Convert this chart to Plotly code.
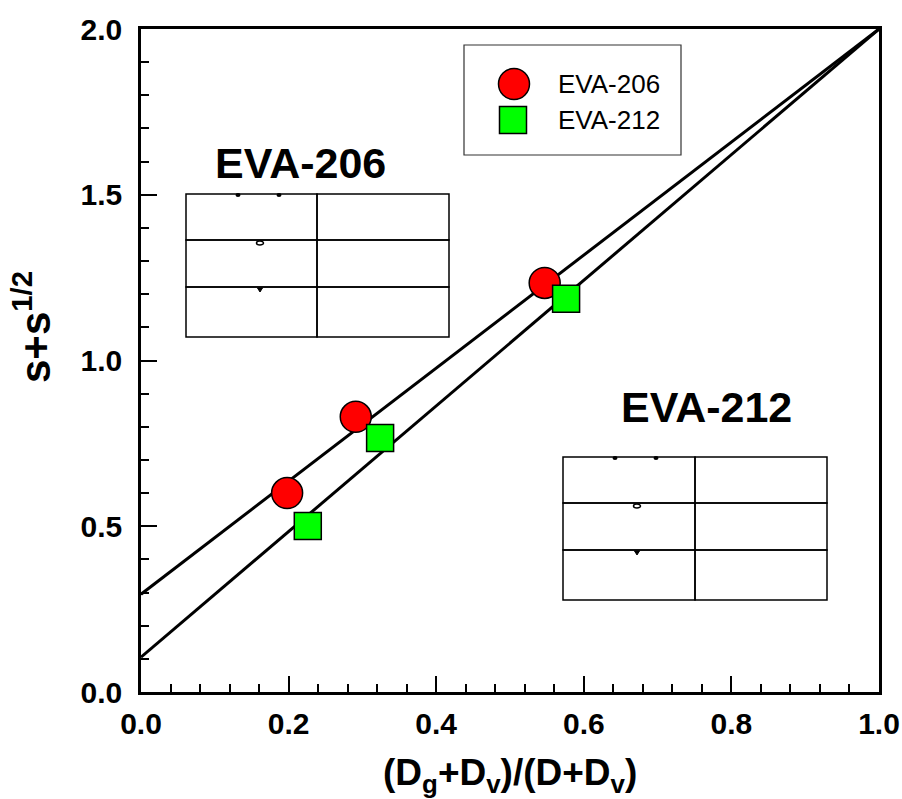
import plotly.graph_objects as go

# ---- data ----
series_names = ["EVA-206", "EVA-212"]
x206 = [0.198, 0.291, 0.547]
y206 = [0.600, 0.830, 1.234]
x212 = [0.226, 0.324, 0.576]
y212 = [0.501, 0.766, 1.186]
fit_x = [0.0, 1.0]
fit206 = [0.295, 2.0]
fit212 = [0.105, 2.0]
x_ticks = [0.0, 0.2, 0.4, 0.6, 0.8, 1.0]
y_ticks = [0.0, 0.5, 1.0, 1.5, 2.0]

FONT = "Liberation Sans, Arial, sans-serif"
W, H = 902, 799
L, R, T, B = 141, 23, 29, 107
PW, PH = W - L - R, H - T - B

def px(xp):
    return (xp - L) / PW

def py(yp):
    return (H - B - yp) / PH

fig = go.Figure()
fig.add_trace(go.Scatter(x=fit_x, y=fit206, mode="lines",
                         line=dict(color="black", width=3), showlegend=False))
fig.add_trace(go.Scatter(x=fit_x, y=fit212, mode="lines",
                         line=dict(color="black", width=3), showlegend=False))
fig.add_trace(go.Scatter(x=x206, y=y206, mode="markers", name=series_names[0],
                         marker=dict(symbol="circle", size=31, color="#ff0000",
                                     line=dict(color="black", width=1.5)),
                         showlegend=False))
fig.add_trace(go.Scatter(x=x212, y=y212, mode="markers", name=series_names[1],
                         marker=dict(symbol="square", size=27, color="#00ff00",
                                     line=dict(color="black", width=1.5)),
                         showlegend=False))

shapes = []
annotations = []

# legend box (drawn manually to keep large symbols)
shapes.append(dict(type="rect", xref="paper", yref="paper",
                   x0=px(464), x1=px(681), y0=py(155), y1=py(45),
                   line=dict(color="#333", width=1.2), fillcolor="white", layer="below"))
shapes.append(dict(type="circle", xref="paper", yref="paper",
                   x0=px(514 - 15.5), x1=px(514 + 15.5), y0=py(84 + 15.5), y1=py(84 - 15.5),
                   line=dict(color="black", width=1.5), fillcolor="#ff0000"))
shapes.append(dict(type="rect", xref="paper", yref="paper",
                   x0=px(513 - 13.5), x1=px(513 + 13.5), y0=py(120 + 13.5), y1=py(120 - 13.5),
                   line=dict(color="black", width=1.5), fillcolor="#00ff00"))
for name, yc in zip(series_names, [84, 120]):
    annotations.append(dict(xref="paper", yref="paper", x=px(556), y=py(yc),
                            xanchor="left", yanchor="middle", text=name, showarrow=False,
                            font=dict(family=FONT, size=26, color="black")))

# inset tables
def table(x0, x1, xc, ys, title_xy, title):
    for ya, yb in zip(ys[:-1], ys[1:]):
        for xa, xb in [(x0, xc), (xc, x1)]:
            shapes.append(dict(type="rect", xref="paper", yref="paper",
                               x0=px(xa), x1=px(xb), y0=py(yb), y1=py(ya),
                               line=dict(color="black", width=1.5)))
    annotations.append(dict(xref="paper", yref="paper", x=px(title_xy[0]), y=py(title_xy[1]),
                            xanchor="center", yanchor="middle", text="<b>%s</b>" % title,
                            showarrow=False, font=dict(family=FONT, size=43, color="black")))
    # small clipped glyph fragments inside the cells
    for dx in (52, 93):
        shapes.append(dict(type="circle", xref="paper", yref="paper",
                           x0=px(x0 + dx - 2.5), x1=px(x0 + dx + 2.5),
                           y0=py(ys[0] + 3), y1=py(ys[0] - 1),
                           line=dict(width=0), fillcolor="black"))
    cx = x0 + 74
    shapes.append(dict(type="circle", xref="paper", yref="paper",
                       x0=px(cx - 3.5), x1=px(cx + 3.5),
                       y0=py(ys[1] + 5), y1=py(ys[1] + 1),
                       line=dict(width=1.5, color="black"), fillcolor="white"))
    shapes.append(dict(type="path", xref="paper", yref="paper",
                       path="M %f,%f L %f,%f L %f,%f Z" % (
                           px(cx - 2.5), py(ys[2] + 1), px(cx + 2.5), py(ys[2] + 1),
                           px(cx), py(ys[2] + 5)),
                       line=dict(width=1, color="black"), fillcolor="black"))

table(186, 449, 317, [194, 240, 287, 337], (300, 163), series_names[0])
table(563, 827, 695, [457, 503, 550, 600], (706, 407), series_names[1])

# axis titles
annotations.append(dict(xref="paper", yref="paper", x=0.5, y=py(775),
                        xanchor="center", yanchor="middle", showarrow=False,
                        text="<b>(D<sub>g</sub>+D<sub>v</sub>)/(D+D<sub>v</sub>)</b>",
                        font=dict(family=FONT, size=37, color="black")))
annotations.append(dict(xref="paper", yref="paper", x=px(32), y=py(327),
                        xanchor="center", yanchor="middle", showarrow=False, textangle=-90,
                        text="<b>s+s<sup>1/2</sup></b>",
                        font=dict(family=FONT, size=42, color="black")))

axis_common = dict(showgrid=False, zeroline=False, showline=True, linecolor="black",
                   linewidth=2.5, mirror=True, ticks="inside", ticklen=16, tickwidth=2,
                   tickcolor="black", automargin=False,
                   tickfont=dict(family=FONT, size=30, color="black"))

fig.update_xaxes(range=[0, 1], tickvals=x_ticks,
                 ticktext=["<b>%.1f</b>" % v for v in x_ticks],
                 minor=dict(dtick=0.04, ticks="inside", ticklen=8, tickwidth=2, tickcolor="black"),
                 ticklabelstandoff=3, **axis_common)
fig.update_yaxes(range=[0, 2], tickvals=y_ticks,
                 ticktext=["<b>%.1f</b>" % v for v in y_ticks],
                 minor=dict(dtick=0.1, ticks="inside", ticklen=8, tickwidth=2, tickcolor="black"),
                 ticklabelstandoff=10, **axis_common)

fig.update_layout(width=W, height=H, margin=dict(l=L, r=R, t=T, b=B, autoexpand=False),
                  paper_bgcolor="white", plot_bgcolor="white",
                  shapes=shapes, annotations=annotations, showlegend=False)
fig.write_html("out.html", post_script="document.body.style.margin='0';",
               config={"displayModeBar": False})
